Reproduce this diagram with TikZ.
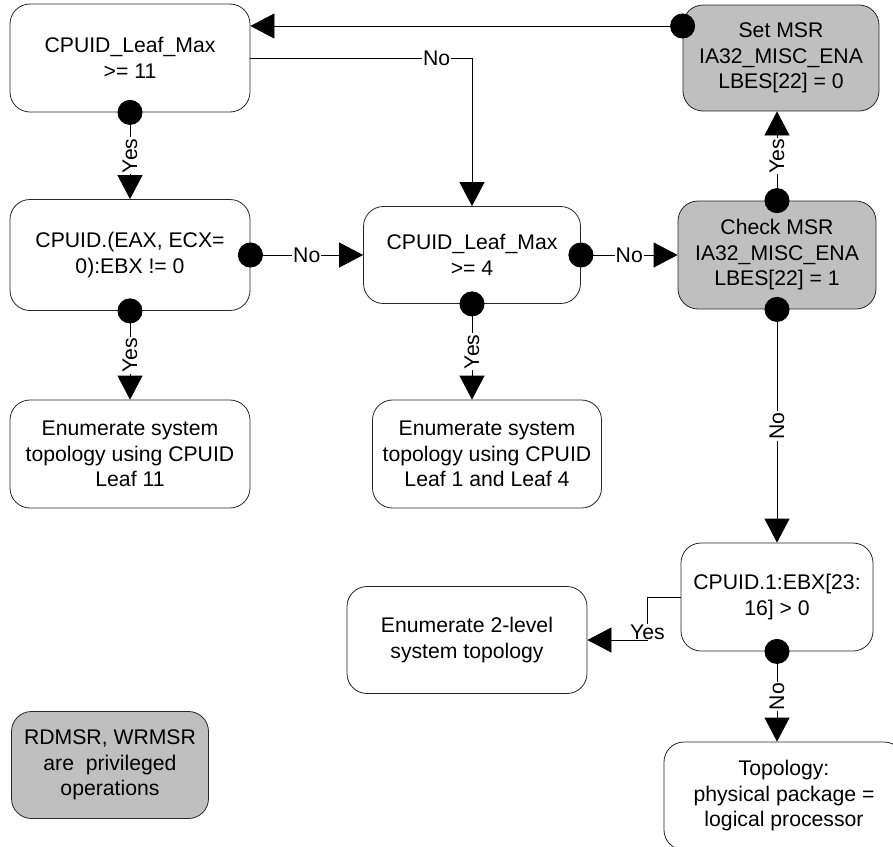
\documentclass[tikz,border=0pt]{standalone}
\usepackage{fontspec}
\setmainfont{Liberation Sans}
\usepackage {tikz}
\usetikzlibrary {positioning}
\usetikzlibrary{shapes,arrows.meta}
\tikzstyle{block} = [rectangle, draw=black!85, line width=0.8pt, rounded corners=20pt,
    align=center, minimum height=108pt, font=\fontsize{21.2}{25.5}\selectfont]
\tikzstyle{msr} = [block, fill=black!25]
\tikzstyle{line} = [draw, line width=0.8pt, {Circle[length=25pt]}-{Triangle[length=24pt,width=25pt]},
    shorten <=-12.5pt]
\tikzstyle{plain} = [draw, line width=0.8pt, -{Triangle[length=24pt,width=25pt]}]
\tikzstyle{lbl} = [fill=white, inner sep=1pt, font=\fontsize{21.2}{25.5}\selectfont]

\begin{document}
\begin{tikzpicture}[x=1pt, y=1pt, node distance = 197pt]
    \clip (0,0) rectangle (893,-846);
    % Place nodes
    \node [block, minimum width=240pt] (leaf11) at (130,-58) {CPUID\_Leaf\_Max\\>= 11};
    \node [block, below of=leaf11, minimum width=240pt, minimum height=111pt] (ebx) {CPUID.(EAX, ECX=\\0):EBX != 0};
    \node [block, below of=ebx, node distance=199pt, minimum width=240pt] (enum11) {Enumerate system\\topology using CPUID\\Leaf 11};
    \node [block, right of=ebx, node distance=342pt, minimum width=217pt, minimum height=97pt] (leaf4) {CPUID\_Leaf\_Max\\>= 4};
    \node [block, below of=leaf4, node distance=199pt, xshift=15pt, minimum width=229pt] (enum4) {Enumerate system\\topology using CPUID\\Leaf 1 and Leaf 4};
    \node [msr, right of=leaf4, node distance=305pt, minimum width=198pt] (check) {Check MSR\\IA32\_MISC\_ENA\\LBES[22] = 1};
    \node [msr, above of=check, xshift=4pt, minimum width=196pt, minimum height=106pt] (setmsr) {Set MSR\\IA32\_MISC\_ENA\\LBES[22] = 0};
    \node [block, below of=check, node distance=342pt, minimum width=192pt] (ebx1) {CPUID.1:EBX[23:\\16] > 0};
    \node [block, left of=ebx1, node distance=310pt, yshift=-43pt, minimum width=240pt, minimum height=107pt] (twolevel) {Enumerate 2-level\\system topology};
    \node [block, below of=ebx1, node distance=199pt, xshift=7pt, minimum width=240pt] (topo) {Topology:\\physical package =\\logical processor};
    \node [msr, minimum width=197pt, minimum height=107pt] (priv) at (110,-765) {RDMSR, WRMSR\\are~ privileged\\operations};
    % arrows
    \path [line] ([yshift=32pt]leaf11.east -| setmsr.west) -- ([yshift=32pt]leaf11.east);
    \path [plain] (leaf11.east) -| node [lbl, pos=0.42] {No} (leaf4.north);
    \path [line] (leaf11) -- node [lbl, rotate=90] {Yes} (ebx);
    \path [line] (ebx) -- node [lbl] {No} (leaf4);
    \path [line] (ebx) -- node [lbl, rotate=90] {Yes} (enum11);
    \path [line] (leaf4) -- node [lbl] {No} (check);
    \path [line] (leaf4) -- node [lbl, rotate=90] {Yes} (leaf4 |- enum4.north);
    \path [line] (check) -- node [lbl, rotate=90] {Yes} (check |- setmsr.south);
    \path [line] (check) -- node [lbl, rotate=90] {No} (ebx1);
    \path [plain] (ebx1.west) -| ([xshift=60pt]twolevel.east) node [lbl, yshift=8pt] {Yes} -- (twolevel.east);
    \path [line] (ebx1) -- node [lbl, rotate=90] {No} (ebx1 |- topo.north);

\end{tikzpicture}
\end{document}
